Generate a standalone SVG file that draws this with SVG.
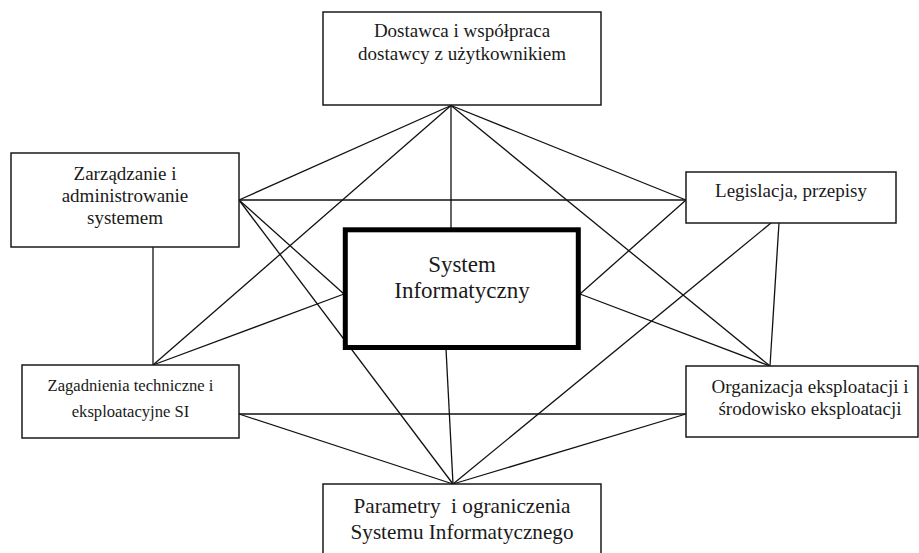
<svg xmlns="http://www.w3.org/2000/svg" width="919" height="553" viewBox="0 0 919 553">
  <style>
    .link { stroke: #111; stroke-width: 1.3; fill: none; }
    .box { fill: #fff; stroke: #1a1a1a; stroke-width: 1.5; }
    .core { fill: #fff; stroke: #000; stroke-width: 5; }
    text { font-family: "Liberation Serif", "Times New Roman", serif; fill: #1a1a1a; text-anchor: middle; }
  </style>
  <rect width="919" height="553" fill="#fff"/>

  <!-- connectors (drawn first so boxes sit on top) -->
  <g id="connectors">
    <!-- from supplier box -->
    <line class="link" x1="451" y1="105.5" x2="239" y2="200"/>
    <line class="link" x1="451" y1="105.5" x2="153" y2="365"/>
    <line class="link" x1="451" y1="105.5" x2="451" y2="228"/>
    <line class="link" x1="451" y1="105.5" x2="686" y2="200"/>
    <line class="link" x1="451" y1="105.5" x2="770" y2="366"/>
    <!-- from management box -->
    <line class="link" x1="239" y1="200" x2="686" y2="200"/>
    <line class="link" x1="239" y1="200" x2="344" y2="294"/>
    <line class="link" x1="239" y1="200" x2="453" y2="484"/>
    <line class="link" x1="153" y1="247" x2="153" y2="365"/>
    <!-- from legislation box -->
    <line class="link" x1="686" y1="200" x2="580" y2="294"/>
    <line class="link" x1="771" y1="223" x2="453" y2="484"/>
    <line class="link" x1="779" y1="223" x2="770" y2="366"/>
    <!-- from technical box -->
    <line class="link" x1="153" y1="365" x2="344" y2="294"/>
    <line class="link" x1="239" y1="414" x2="453" y2="484"/>
    <line class="link" x1="239" y1="414" x2="686" y2="414"/>
    <!-- from operations box -->
    <line class="link" x1="770" y1="366" x2="580" y2="294"/>
    <line class="link" x1="686" y1="414" x2="453" y2="484"/>
    <!-- core to parameters -->
    <line class="link" x1="446" y1="349" x2="453" y2="484"/>
  </g>

  <g id="node-dostawca">
    <rect class="box" x="323" y="12" width="278" height="93"/>
    <text x="462" y="37" font-size="19">Dostawca i współpraca</text>
    <text x="462" y="60" font-size="19">dostawcy z użytkownikiem</text>
  </g>

  <g id="node-zarzadzanie">
    <rect class="box" x="11" y="153" width="228" height="94"/>
    <text x="125" y="180" font-size="19">Zarządzanie i</text>
    <text x="125" y="202" font-size="19">administrowanie</text>
    <text x="125" y="224" font-size="19">systemem</text>
  </g>

  <g id="node-legislacja">
    <rect class="box" x="686" y="172" width="210" height="51"/>
    <text x="791" y="197" font-size="19">Legislacja, przepisy</text>
  </g>

  <g id="node-system">
    <rect class="core" x="345.3" y="229.8" width="233" height="117.7"/>
    <text x="462" y="272" font-size="23">System</text>
    <text x="462" y="298" font-size="23">Informatyczny</text>
  </g>

  <g id="node-zagadnienia">
    <rect class="box" x="22" y="365" width="217" height="73"/>
    <text x="130.5" y="390.5" font-size="16.6">Zagadnienia techniczne i</text>
    <text x="130.5" y="416.5" font-size="16.6">eksploatacyjne SI</text>
  </g>

  <g id="node-organizacja">
    <rect class="box" x="686" y="366" width="232" height="71"/>
    <text x="810" y="392.5" font-size="19">Organizacja eksploatacji i</text>
    <text x="810" y="415" font-size="19">środowisko eksploatacji</text>
  </g>

  <g id="node-parametry">
    <rect class="box" x="323" y="484" width="278" height="75"/>
    <text x="462" y="513" font-size="21.2" xml:space="preserve">Parametry  i ograniczenia</text>
    <text x="462" y="538.5" font-size="21.2">Systemu Informatycznego</text>
  </g>
</svg>
